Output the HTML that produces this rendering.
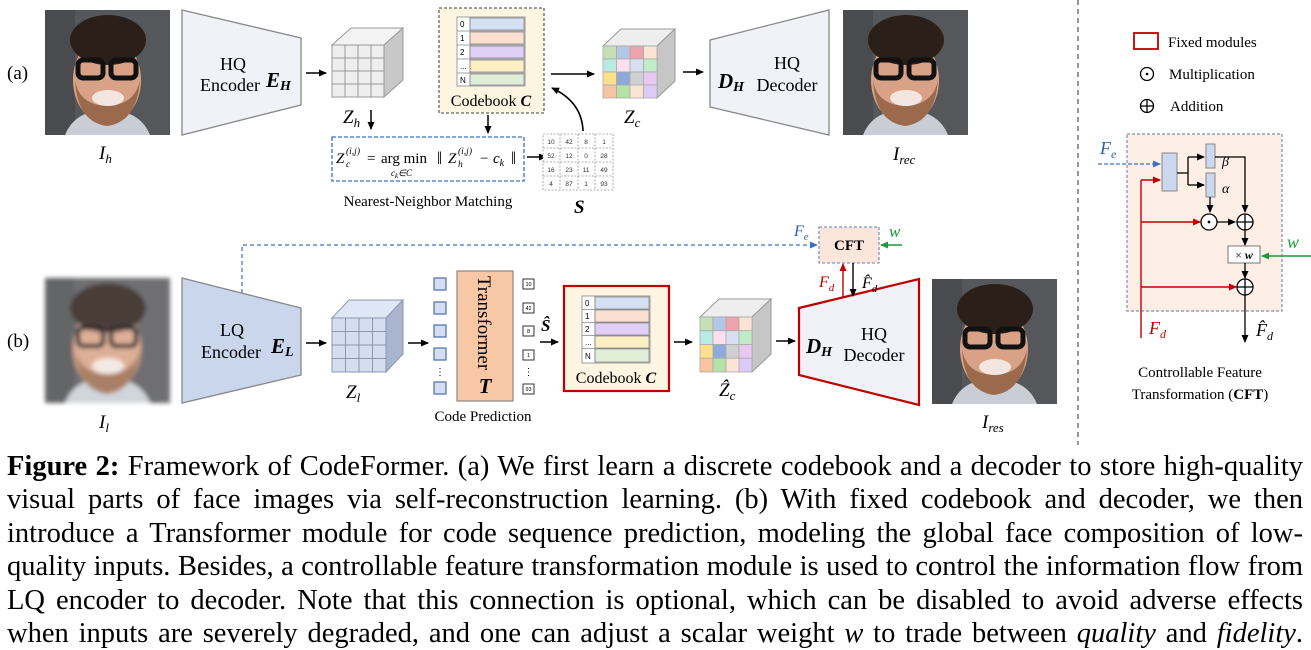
<!DOCTYPE html>
<html><head><meta charset="utf-8">
<style>
body{margin:0;background:#fff;}
#w{position:relative;width:1311px;height:650px;overflow:hidden;background:#fff;}
svg{position:absolute;left:0;top:0;}
.cap{position:absolute;left:7px;top:450px;width:1296px;font-family:"Liberation Serif",serif;font-size:28.5px;line-height:33.4px;color:#000;}
.cap div{text-align:justify;text-align-last:justify;white-space:nowrap;}
</style></head><body><div id="w">
<svg width="1311" height="450" viewBox="0 0 1311 450" font-family="Liberation Serif, serif">
<defs>
<marker id="ak" markerWidth="8" markerHeight="8" refX="7" refY="4" orient="auto" markerUnits="userSpaceOnUse"><path d="M0,0.5 L8,4 L0,7.5z" fill="#000"/></marker>
<marker id="ar" markerWidth="8" markerHeight="8" refX="7" refY="4" orient="auto" markerUnits="userSpaceOnUse"><path d="M0,0.5 L8,4 L0,7.5z" fill="#c00000"/></marker>
<marker id="ag" markerWidth="8" markerHeight="8" refX="7" refY="4" orient="auto" markerUnits="userSpaceOnUse"><path d="M0,0.5 L8,4 L0,7.5z" fill="#1a9a3a"/></marker>
<marker id="ab" markerWidth="8" markerHeight="8" refX="7" refY="4" orient="auto" markerUnits="userSpaceOnUse"><path d="M0,0.5 L8,4 L0,7.5z" fill="#3d6fc2"/></marker>
<filter id="bl"><feGaussianBlur stdDeviation="2.2"/></filter>
<g id="face">
<rect x="0" y="0" width="125" height="125" fill="#56575a"/>
<rect x="0" y="0" width="30" height="125" fill="#4a4b4e"/>
<path d="M20,125 Q30,100 62,100 Q95,100 105,125z" fill="#c9ced6"/>
<ellipse cx="62" cy="70" rx="34" ry="44" fill="#d9a286"/>
<path d="M30,70 Q32,112 62,116 Q92,112 95,70 Q90,95 62,96 Q34,95 30,70z" fill="#9b6a4c"/>
<ellipse cx="63" cy="30" rx="38" ry="25" fill="#2b1f19"/>
<ellipse cx="63" cy="88" rx="16" ry="8" fill="#f3e6e0"/>
<rect x="33" y="50" width="25" height="18" rx="5" fill="none" stroke="#111" stroke-width="5"/>
<rect x="66" y="50" width="25" height="18" rx="5" fill="none" stroke="#111" stroke-width="5"/>
</g>
</defs>

<text x="7" y="79" font-size="19">(a)</text>
<use href="#face" x="45" y="10"/>
<text x="99" y="159" font-size="19" font-style="italic">I<tspan font-size="13" dy="4">h</tspan></text>

<polygon points="182,10 301,38 301,105 182,135" fill="#f1f2f8" stroke="#888" stroke-width="1.3"/>
<text x="233" y="70" font-size="18" text-anchor="middle">HQ</text>
<text x="230" y="91" font-size="18" text-anchor="middle">Encoder</text>
<text x="266" y="87" font-size="21" font-weight="bold" font-style="italic">E<tspan font-size="14" dy="3">H</tspan></text>
<line x1="306" y1="73" x2="326" y2="73" stroke="#000" stroke-width="1.6" marker-end="url(#ak)"/>

<g stroke="#999" stroke-width="1">
<polygon points="332,45 351,28 403,28 384,45" fill="#f3f3f3"/>
<polygon points="384,45 403,28 403,80 384,97" fill="#c8c8c8"/>
<rect x="332" y="45" width="52" height="52" fill="#eeeeee"/>
<path d="M345,45V97M358,45V97M371,45V97M332,58H384M332,71H384M332,84H384" fill="none"/>
</g>
<text x="343" y="123" font-size="19" font-style="italic">Z<tspan font-size="13" dy="4">h</tspan></text>
<line x1="371" y1="110" x2="371" y2="129" stroke="#000" stroke-width="1.5" marker-end="url(#ak)"/>

<rect x="439" y="8" width="105" height="105" fill="#fdf5e1" stroke="#666" stroke-width="1.3" stroke-dasharray="3,2"/>
<g stroke="#888" stroke-width="0.8">
<rect x="457" y="17" width="68" height="69" fill="#fff"/>
<rect x="470" y="18" width="54" height="12" fill="#d6e0f3"/>
<rect x="470" y="32" width="54" height="12" fill="#fbe0d2"/>
<rect x="470" y="46" width="54" height="12" fill="#e0d0f7"/>
<rect x="470" y="60" width="54" height="12" fill="#fdefc4"/>
<rect x="470" y="74" width="54" height="11" fill="#e1efd8"/>
<path d="M457,31H525M457,45H525M457,59H525M457,73H525M470,17V86" fill="none"/>
</g>
<g font-family="Liberation Sans, sans-serif" font-size="8"><text x="460" y="27">0</text><text x="460" y="41">1</text><text x="460" y="55">2</text><text x="460" y="69">...</text><text x="460" y="83">N</text></g>
<text x="491" y="106" font-size="16" text-anchor="middle">Codebook <tspan font-weight="bold" font-style="italic">C</tspan></text>
<line x1="488" y1="115" x2="488" y2="133" stroke="#000" stroke-width="1.5" marker-end="url(#ak)"/>

<rect x="332" y="137" width="192" height="44" fill="#fff" stroke="#3d6fc2" stroke-width="1.3" stroke-dasharray="4,2"/>
<text x="336" y="163" font-size="15" font-style="italic">Z</text>
<text x="346" y="154" font-size="9.5" font-style="italic">(i,j)</text>
<text x="346" y="167" font-size="9.5" font-style="italic">c</text>
<text x="367" y="163" font-size="15">=</text>
<text x="381" y="163" font-size="15">arg min</text>
<text x="391" y="176" font-size="9" font-style="italic">c<tspan font-size="7" dy="2">k</tspan><tspan dy="-2">∈C</tspan></text>
<text x="437" y="164" font-size="18">‖</text>
<text x="448" y="163" font-size="15" font-style="italic">Z</text>
<text x="458" y="154" font-size="9.5" font-style="italic">(i,j)</text>
<text x="458" y="167" font-size="9.5" font-style="italic">h</text>
<text x="480" y="163" font-size="15">−</text>
<text x="493" y="163" font-size="15" font-style="italic">c<tspan font-size="10" dy="3">k</tspan></text>
<text x="511" y="164" font-size="18">‖</text>
<text x="428" y="206" font-size="15" text-anchor="middle">Nearest-Neighbor Matching</text>
<line x1="527" y1="157" x2="546" y2="157" stroke="#000" stroke-width="1.6" marker-end="url(#ak)"/>

<g stroke="#999" stroke-width="0.8" stroke-dasharray="2,1.5" fill="#fff">
<rect x="543" y="134" width="70" height="56"/>
<path d="M560,134V190M578,134V190M595,134V190M543,148H613M543,162H613M543,176H613" fill="none"/>
</g>
<g font-family="Liberation Sans, sans-serif" font-size="6.5" fill="#333" text-anchor="middle">
<text x="551" y="144">10</text><text x="569" y="144">42</text><text x="586" y="144">8</text><text x="604" y="144">1</text>
<text x="551" y="158">52</text><text x="569" y="158">12</text><text x="586" y="158">0</text><text x="604" y="158">28</text>
<text x="551" y="172">16</text><text x="569" y="172">23</text><text x="586" y="172">11</text><text x="604" y="172">49</text>
<text x="551" y="186">4</text><text x="569" y="186">87</text><text x="586" y="186">1</text><text x="604" y="186">93</text>
</g>
<text x="574" y="213" font-size="19" font-weight="bold" font-style="italic">S</text>
<path d="M583,131 Q582,102 552,88" fill="none" stroke="#000" stroke-width="1.6" marker-end="url(#ak)"/>

<line x1="551" y1="74" x2="594" y2="74" stroke="#000" stroke-width="1.6" marker-end="url(#ak)"/>
<g stroke="#999" stroke-width="1">
<polygon points="603,46 621,29 675,29 657,46" fill="#eee"/>
<polygon points="657,46 675,29 675,81 657,98" fill="#c6c6c6"/>
</g>
<g stroke="#aaa" stroke-width="0.8">
<rect x="603" y="46" width="13.5" height="13" fill="#c5e0b4"/><rect x="616.5" y="46" width="13.5" height="13" fill="#b4c7e7"/><rect x="630" y="46" width="13.5" height="13" fill="#efa3ad"/><rect x="643.5" y="46" width="13.5" height="13" fill="#fbe3d6"/>
<rect x="603" y="59" width="13.5" height="13" fill="#b7ebe3"/><rect x="616.5" y="59" width="13.5" height="13" fill="#fde0ee"/><rect x="630" y="59" width="13.5" height="13" fill="#d6e0f2"/><rect x="643.5" y="59" width="13.5" height="13" fill="#c1ecc9"/>
<rect x="603" y="72" width="13.5" height="13" fill="#ffe08a"/><rect x="616.5" y="72" width="13.5" height="13" fill="#8eaadb"/><rect x="630" y="72" width="13.5" height="13" fill="#d0d0d0"/><rect x="643.5" y="72" width="13.5" height="13" fill="#e8c7f0"/>
<rect x="603" y="85" width="13.5" height="13" fill="#f8c3a0"/><rect x="616.5" y="85" width="13.5" height="13" fill="#b5e3a5"/><rect x="630" y="85" width="13.5" height="13" fill="#fbe3d6"/><rect x="643.5" y="85" width="13.5" height="13" fill="#dccbf7"/>
</g>
<text x="624" y="123" font-size="19" font-style="italic">Z<tspan font-size="13" dy="4">c</tspan></text>
<line x1="683" y1="72" x2="703" y2="72" stroke="#000" stroke-width="1.6" marker-end="url(#ak)"/>

<polygon points="710,40 829,10 829,135 710,107" fill="#f1f2f8" stroke="#888" stroke-width="1.3"/>
<text x="718" y="88" font-size="21" font-weight="bold" font-style="italic">D<tspan font-size="14" dy="3">H</tspan></text>
<text x="787" y="69" font-size="18" text-anchor="middle">HQ</text>
<text x="787" y="91" font-size="18" text-anchor="middle">Decoder</text>
<use href="#face" x="843" y="10"/>
<text x="893" y="160" font-size="19" font-style="italic">I<tspan font-size="13" dy="4">rec</tspan></text>

<line x1="1078" y1="0" x2="1078" y2="445" stroke="#555" stroke-width="1.2" stroke-dasharray="5,4"/>

<rect x="1134" y="33" width="24" height="16" fill="#fff" stroke="#c00000" stroke-width="1.8"/>
<text x="1168" y="47" font-size="15">Fixed modules</text>
<circle cx="1147" cy="74" r="6.5" fill="#fff" stroke="#000" stroke-width="1.3"/><circle cx="1147" cy="74" r="1.3"/>
<text x="1169" y="79" font-size="15">Multiplication</text>
<circle cx="1147" cy="106" r="6.5" fill="#fff" stroke="#000" stroke-width="1.3"/><path d="M1140.5,106H1153.5M1147,99.5V112.5" stroke="#000" stroke-width="1.3"/>
<text x="1170" y="111" font-size="15">Addition</text>

<rect x="1127" y="134" width="155" height="177" fill="#fdeee6" stroke="#7a8fb5" stroke-width="1.2" stroke-dasharray="3,2"/>
<text x="1100" y="154" font-size="18" font-style="italic" fill="#2e5ea8">F<tspan font-size="12" dy="4">e</tspan></text>
<line x1="1098" y1="164" x2="1160" y2="164" stroke="#3d6fc2" stroke-width="1.2" stroke-dasharray="4,2" marker-end="url(#ab)"/>
<rect x="1162" y="153" width="15" height="38" fill="#ccd8ee" stroke="#888"/>
<path d="M1177,173H1188M1188,157V185" stroke="#000" stroke-width="1.3" fill="none"/>
<line x1="1188" y1="157" x2="1204" y2="157" stroke="#000" stroke-width="1.3" marker-end="url(#ak)"/>
<line x1="1188" y1="185" x2="1204" y2="185" stroke="#000" stroke-width="1.3" marker-end="url(#ak)"/>
<rect x="1206" y="144" width="9" height="24" fill="#ccd8ee" stroke="#888"/>
<rect x="1206" y="173" width="9" height="24" fill="#ccd8ee" stroke="#888"/>
<text x="1222" y="166" font-size="14" font-style="italic">β</text>
<text x="1222" y="193" font-size="14" font-style="italic">α</text>
<path d="M1215,157H1245V212" stroke="#000" stroke-width="1.3" fill="none" marker-end="url(#ak)"/>
<line x1="1210" y1="197" x2="1210" y2="212" stroke="#000" stroke-width="1.3" marker-end="url(#ak)"/>
<circle cx="1209" cy="222" r="8" fill="#fff" stroke="#000" stroke-width="1.3"/><circle cx="1209" cy="222" r="1.4"/>
<line x1="1217" y1="222" x2="1235" y2="222" stroke="#000" stroke-width="1.3" marker-end="url(#ak)"/>
<circle cx="1245" cy="222" r="8" fill="#fff" stroke="#000" stroke-width="1.3"/><path d="M1237,222H1253M1245,214V230" stroke="#000" stroke-width="1.3"/>
<line x1="1245" y1="230" x2="1245" y2="245" stroke="#000" stroke-width="1.3" marker-end="url(#ak)"/>
<rect x="1228" y="246" width="32" height="17" fill="#fff" stroke="#777"/>
<text x="1244" y="259" font-size="12" text-anchor="middle">× <tspan font-weight="bold" font-style="italic">w</tspan></text>
<text x="1287" y="248" font-size="18" font-style="italic" fill="#1a9a3a">w</text>
<line x1="1311" y1="256" x2="1262" y2="256" stroke="#1a9a3a" stroke-width="1.4" marker-end="url(#ag)"/>
<line x1="1245" y1="263" x2="1245" y2="278" stroke="#000" stroke-width="1.3" marker-end="url(#ak)"/>
<circle cx="1245" cy="287" r="8" fill="#fff" stroke="#000" stroke-width="1.3"/><path d="M1237,287H1253M1245,279V295" stroke="#000" stroke-width="1.3"/>
<line x1="1245" y1="295" x2="1245" y2="342" stroke="#000" stroke-width="1.3" marker-end="url(#ak)"/>
<path d="M1141,338V180" stroke="#c00000" stroke-width="1.4" fill="none"/>
<line x1="1141" y1="180" x2="1160" y2="180" stroke="#c00000" stroke-width="1.4" marker-end="url(#ar)"/>
<line x1="1141" y1="222" x2="1200" y2="222" stroke="#c00000" stroke-width="1.4" marker-end="url(#ar)"/>
<line x1="1141" y1="287" x2="1236" y2="287" stroke="#c00000" stroke-width="1.4" marker-end="url(#ar)"/>
<text x="1149" y="334" font-size="18" font-style="italic" fill="#c00000">F<tspan font-size="12" dy="4">d</tspan></text>
<text x="1256" y="336" font-size="18" font-style="italic">F̂<tspan font-size="12" dy="4">d</tspan></text>
<text x="1200" y="377" font-size="15" text-anchor="middle">Controllable Feature</text>
<text x="1200" y="399" font-size="15" text-anchor="middle">Transformation (<tspan font-weight="bold">CFT</tspan>)</text>

<text x="7" y="347" font-size="19">(b)</text>
<use href="#face" x="45" y="278" filter="url(#bl)" opacity="0.85"/>
<text x="99" y="428" font-size="19" font-style="italic">I<tspan font-size="13" dy="4">l</tspan></text>
<path d="M242,293V245H817" fill="none" stroke="#3d6fc2" stroke-width="1.2" stroke-dasharray="4,3" marker-end="url(#ab)"/>
<polygon points="182,278 301,308 301,375 182,403" fill="#c9d6ec" stroke="#888" stroke-width="1.3"/>
<text x="232" y="336" font-size="18" text-anchor="middle">LQ</text>
<text x="231" y="358" font-size="18" text-anchor="middle">Encoder</text>
<text x="271" y="353" font-size="21" font-weight="bold" font-style="italic">E<tspan font-size="14" dy="3">L</tspan></text>
<line x1="306" y1="343" x2="326" y2="343" stroke="#000" stroke-width="1.6" marker-end="url(#ak)"/>
<g stroke="#8d97ad" stroke-width="1">
<polygon points="332,318 349,300 403,300 386,318" fill="#dfe7f6"/>
<polygon points="386,318 403,300 403,354 386,372" fill="#a9b5cc"/>
<rect x="332" y="318" width="54" height="54" fill="#d3def2"/>
<path d="M345.5,318V372M359,318V372M372.5,318V372M332,331.5H386M332,345H386M332,358.5H386" fill="none"/>
</g>
<text x="346" y="398" font-size="19" font-style="italic">Z<tspan font-size="13" dy="4">l</tspan></text>
<line x1="408" y1="343" x2="428" y2="343" stroke="#000" stroke-width="1.6" marker-end="url(#ak)"/>
<g fill="#d3def2" stroke="#4a6fa8" stroke-width="1.2">
<rect x="434" y="278" width="12" height="12"/><rect x="434" y="302" width="12" height="12"/><rect x="434" y="325" width="12" height="12"/><rect x="434" y="348" width="12" height="12"/><rect x="434" y="382" width="12" height="12"/>
</g>
<text x="440" y="375" font-size="10" text-anchor="middle">⋮</text>
<rect x="457" y="271" width="56" height="130" fill="#f8c7a6" stroke="#888" stroke-width="1.2"/>
<text transform="translate(478,323) rotate(90)" font-size="19" text-anchor="middle">Transformer</text>
<text x="485" y="393" font-size="21" font-weight="bold" font-style="italic" text-anchor="middle">T</text>
<g fill="#fff" stroke="#333" stroke-width="1">
<rect x="523" y="279" width="11" height="10"/><rect x="523" y="303" width="11" height="10"/><rect x="523" y="326" width="11" height="10"/><rect x="523" y="350" width="11" height="10"/><rect x="523" y="384" width="11" height="10"/>
</g>
<g font-family="Liberation Sans, sans-serif" font-size="5.5" text-anchor="middle"><text x="528.5" y="286">10</text><text x="528.5" y="310">42</text><text x="528.5" y="333">8</text><text x="528.5" y="357">1</text><text x="528.5" y="391">93</text></g>
<text x="528.5" y="375" font-size="10" text-anchor="middle">⋮</text>
<text x="483" y="421" font-size="15" text-anchor="middle">Code Prediction</text>
<text x="541" y="331" font-size="17" font-style="italic" font-weight="bold">Ŝ</text>
<line x1="540" y1="342" x2="558" y2="342" stroke="#000" stroke-width="1.6" marker-end="url(#ak)"/>

<rect x="564" y="286" width="105" height="105" fill="#fdf5e1" stroke="#c00000" stroke-width="2.2"/>
<g stroke="#888" stroke-width="0.8">
<rect x="582" y="296" width="68" height="67" fill="#fff"/>
<rect x="595" y="297" width="54" height="12" fill="#d6e0f3"/>
<rect x="595" y="310" width="54" height="12" fill="#fbe0d2"/>
<rect x="595" y="323" width="54" height="12" fill="#e0d0f7"/>
<rect x="595" y="336" width="54" height="12" fill="#fdefc4"/>
<rect x="595" y="349" width="54" height="13" fill="#e1efd8"/>
<path d="M582,309.5H650M582,322.5H650M582,335.5H650M582,348.5H650M595,296V363" fill="none"/>
</g>
<g font-family="Liberation Sans, sans-serif" font-size="8"><text x="585" y="306">0</text><text x="585" y="319">1</text><text x="585" y="332">2</text><text x="585" y="345">...</text><text x="585" y="359">N</text></g>
<text x="616" y="383" font-size="16" text-anchor="middle">Codebook <tspan font-weight="bold" font-style="italic">C</tspan></text>
<line x1="674" y1="342" x2="692" y2="342" stroke="#000" stroke-width="1.6" marker-end="url(#ak)"/>
<g stroke="#999" stroke-width="1">
<polygon points="700,317 719,299 771,299 752,317" fill="#eee"/>
<polygon points="752,317 771,299 771,354 752,372" fill="#c6c6c6"/>
</g>
<g stroke="#aaa" stroke-width="0.8">
<rect x="700" y="317" width="13" height="13.75" fill="#c5e0b4"/><rect x="713" y="317" width="13" height="13.75" fill="#b4c7e7"/><rect x="726" y="317" width="13" height="13.75" fill="#efa3ad"/><rect x="739" y="317" width="13" height="13.75" fill="#fbe3d6"/>
<rect x="700" y="330.75" width="13" height="13.75" fill="#b7ebe3"/><rect x="713" y="330.75" width="13" height="13.75" fill="#fde0ee"/><rect x="726" y="330.75" width="13" height="13.75" fill="#d6e0f2"/><rect x="739" y="330.75" width="13" height="13.75" fill="#c1ecc9"/>
<rect x="700" y="344.5" width="13" height="13.75" fill="#ffe08a"/><rect x="713" y="344.5" width="13" height="13.75" fill="#8eaadb"/><rect x="726" y="344.5" width="13" height="13.75" fill="#d0d0d0"/><rect x="739" y="344.5" width="13" height="13.75" fill="#e8c7f0"/>
<rect x="700" y="358.25" width="13" height="13.75" fill="#f8c3a0"/><rect x="713" y="358.25" width="13" height="13.75" fill="#b5e3a5"/><rect x="726" y="358.25" width="13" height="13.75" fill="#fbe3d6"/><rect x="739" y="358.25" width="13" height="13.75" fill="#dccbf7"/>
</g>
<text x="719" y="396" font-size="19" font-style="italic">Ẑ<tspan font-size="13" dy="4">c</tspan></text>
<line x1="776" y1="341" x2="795" y2="341" stroke="#000" stroke-width="1.6" marker-end="url(#ak)"/>
<polygon points="799,308 919,279 919,405 799,375" fill="#f1f2f8" stroke="#c00000" stroke-width="2.2"/>
<text x="806" y="353" font-size="21" font-weight="bold" font-style="italic">D<tspan font-size="14" dy="3">H</tspan></text>
<text x="874" y="340" font-size="18" text-anchor="middle">HQ</text>
<text x="874" y="361" font-size="18" text-anchor="middle">Decoder</text>
<use href="#face" x="932" y="279"/>
<text x="982" y="428" font-size="19" font-style="italic">I<tspan font-size="13" dy="4">res</tspan></text>

<rect x="819" y="227" width="60" height="36" fill="#fbe6dc" stroke="#6a83b5" stroke-width="1.1" stroke-dasharray="3,2"/>
<text x="849" y="250" font-size="15" font-weight="bold" text-anchor="middle">CFT</text>
<text x="794" y="236" font-size="16" font-style="italic" fill="#2e5ea8">F<tspan font-size="11" dy="4">e</tspan></text>
<text x="889" y="237" font-size="17" font-style="italic" fill="#1a9a3a">w</text>
<line x1="902" y1="245" x2="881" y2="245" stroke="#1a9a3a" stroke-width="1.4" marker-end="url(#ag)"/>
<line x1="843" y1="297" x2="843" y2="264" stroke="#c00000" stroke-width="1.4" marker-end="url(#ar)"/>
<line x1="853" y1="263" x2="853" y2="296" stroke="#000" stroke-width="1.4" marker-end="url(#ak)"/>
<text x="819" y="287" font-size="16" font-style="italic" fill="#c00000">F<tspan font-size="11" dy="4">d</tspan></text>
<text x="862" y="288" font-size="16" font-style="italic">F̂<tspan font-size="11" dy="4">d</tspan></text>
</svg>

<div class="cap">
<div><b>Figure 2:</b> Framework of CodeFormer. (a) We first learn a discrete codebook and a decoder to store high-quality</div>
<div>visual parts of face images via self-reconstruction learning. (b) With fixed codebook and decoder, we then</div>
<div>introduce a Transformer module for code sequence prediction, modeling the global face composition of low-</div>
<div>quality inputs. Besides, a controllable feature transformation module is used to control the information flow from</div>
<div>LQ encoder to decoder. Note that this connection is optional, which can be disabled to avoid adverse effects</div>
<div>when inputs are severely degraded, and one can adjust a scalar weight <i>w</i> to trade between <i>quality</i> and <i>fidelity</i>.</div>
</div>
</div></body></html>
